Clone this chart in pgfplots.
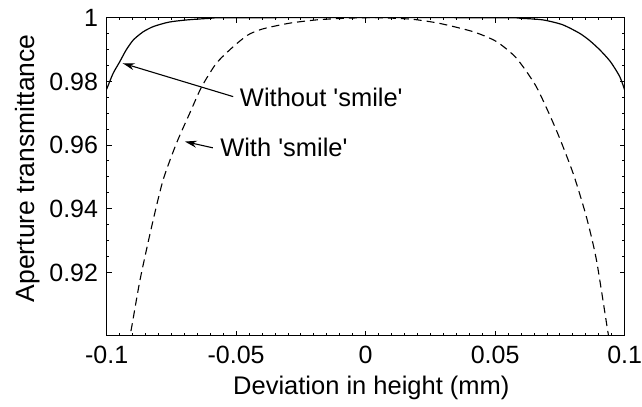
\documentclass[border=0pt]{standalone}
\usepackage{fontspec}
\setmainfont{Liberation Sans}
\usepackage{pgfplots}
\pgfplotsset{compat=1.18}
\usetikzlibrary{arrows.meta}

\pgfplotstableread{
x y
-0.1000 0.9775
-0.0975 0.9825
-0.0949 0.9862
-0.0925 0.9898
-0.0897 0.9930
-0.0860 0.9955
-0.0820 0.9972
-0.0760 0.9986
-0.0690 0.9993
-0.0600 0.9998
-0.0500 1.0000
 0.0500 1.0000
 0.0600 0.9998
 0.0685 0.9993
 0.0760 0.9978
 0.0826 0.9951
 0.0865 0.9928
 0.0904 0.9899
 0.0945 0.9862
 0.0981 0.9815
 0.1000 0.9773
}\nosmile

\pgfplotstableread{
x y
-0.0918 0.8975
-0.0905 0.9020
-0.0871 0.9176
-0.0826 0.9344
-0.0782 0.9490
-0.0730 0.9606
-0.0679 0.9700
-0.0633 0.9783
-0.0576 0.9857
-0.0511 0.9909
-0.0454 0.9946
-0.0396 0.9965
-0.0292 0.9983
-0.0177 0.9994
-0.0050 0.9999
 0.0050 1.0000
 0.0180 0.9995
 0.0286 0.9982
 0.0415 0.9956
 0.0505 0.9925
 0.0582 0.9873
 0.0659 0.9783
 0.0736 0.9647
 0.0801 0.9511
 0.0852 0.9375
 0.0891 0.9239
 0.0936 0.9009
 0.0945 0.8970
}\withsmile

\begin{document}
\begin{tikzpicture}
\begin{axis}[
  scale only axis,
  width=518.3pt, height=318.3pt,
  xmin=-0.1, xmax=0.1, ymin=0.9, ymax=1,
  axis line style={line width=1.1pt},
  every tick/.style={black, line width=0.8pt},
  major tick length=5pt, minor tick length=2.7pt,
  tick align=inside,
  xtick={-0.1,-0.05,0,0.05,0.1},
  xticklabels={-0.1,-0.05,0,0.05,0.1},
  minor x tick num=9,
  ytick={0.92,0.94,0.96,0.98,1},
  yticklabels={0.92,0.94,0.96,0.98,1},
  minor y tick num=3,
  ticklabel style={font=\fontsize{25}{30}\selectfont, inner sep=0pt},
  xticklabel style={anchor=base, yshift=-27.3pt},
  yticklabel style={anchor=base east, xshift=-8.4pt, yshift=-8.9pt},
  label style={font=\fontsize{25.5}{30}\selectfont, inner sep=0pt},
  xlabel={Deviation in height (mm)},
  xlabel style={at={(rel axis cs:0.5,0)}, anchor=base, yshift=-59pt, xshift=5.7pt},
  ylabel={Aperture transmittance},
  % the label is rotated by 90 degrees, so the shifts act in its rotated frame
  ylabel style={at={(rel axis cs:0,0.5)}, anchor=base, xshift=8.5pt, yshift=71.7pt,
    font=\fontsize{26.5}{30}\selectfont},
  clip=true,
]
\addplot[black, line width=1.2pt, smooth, tension=0.4] table {\nosmile};
\addplot[black, line width=1.1pt, smooth, tension=0.4, dash pattern=on 8pt off 5pt] table {\withsmile};

\draw[line width=1.1pt, -{Stealth[length=12pt, width=7pt]}] (axis cs:-0.05115,0.97519) -- (axis cs:-0.0938,0.98568);
\draw[line width=1.1pt, -{Stealth[length=12pt, width=7pt]}] (axis cs:-0.0590,0.95909) -- (axis cs:-0.0698,0.96106);
\node[anchor=base west, inner sep=0pt, font=\fontsize{25.5}{30}\selectfont] at (axis cs:-0.0486,0.97205) {Without \textquotesingle smile\textquotesingle};
\node[anchor=base west, inner sep=0pt, font=\fontsize{25.5}{30}\selectfont] at (axis cs:-0.0562,0.95635) {With \textquotesingle smile\textquotesingle};
\end{axis}
\path ([shift={(-106.7pt,-71pt)}]current axis.south west) rectangle ([shift={(17pt,17.7pt)}]current axis.north east);
\end{tikzpicture}
\end{document}
